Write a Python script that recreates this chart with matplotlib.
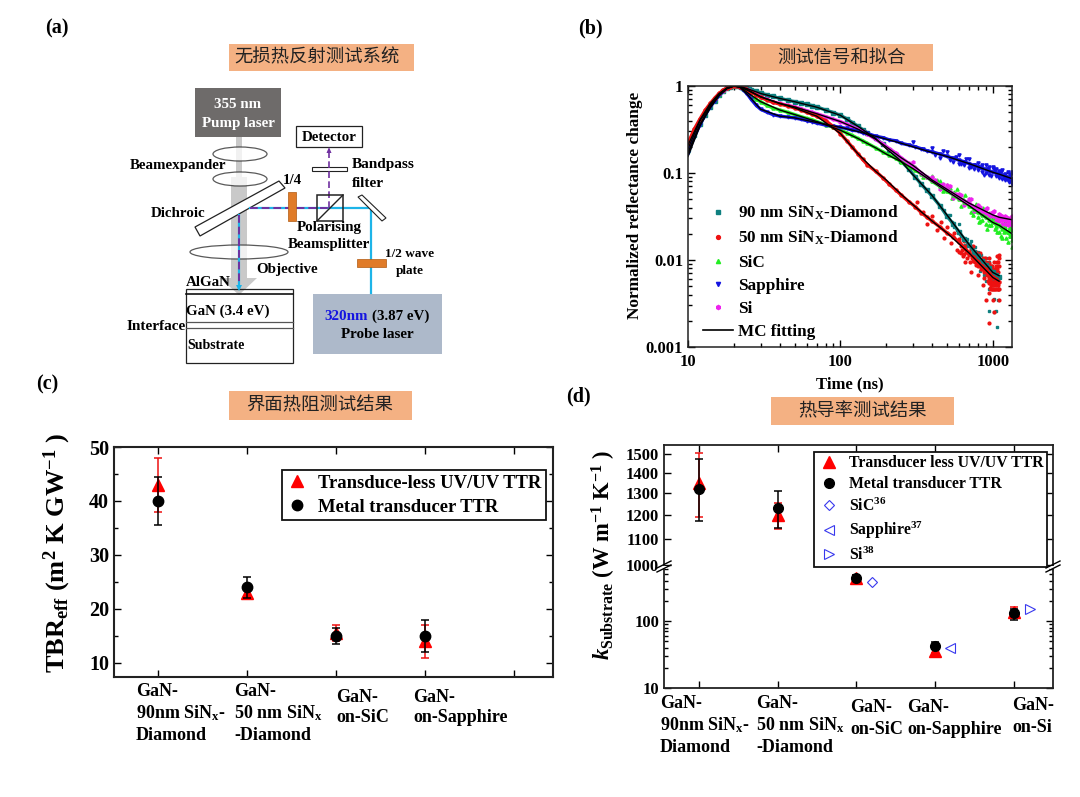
import matplotlib
matplotlib.use('Agg')
import matplotlib.pyplot as plt
from matplotlib.patches import Rectangle, Ellipse, Polygon
from matplotlib.lines import Line2D
from matplotlib.ticker import NullFormatter, FixedLocator, FixedFormatter, LogLocator

plt.rcParams['font.family'] = ['Liberation Serif', 'Noto Sans CJK SC', 'DejaVu Sans']
plt.rcParams['font.weight'] = 'bold'
plt.rcParams['mathtext.fontset'] = 'custom'
plt.rcParams['mathtext.rm'] = 'Liberation Serif:bold'
plt.rcParams['mathtext.bf'] = 'Liberation Serif:bold'
plt.rcParams['mathtext.it'] = 'Liberation Serif:italic:bold'
plt.rcParams['mathtext.default'] = 'rm'

W, H = 1080, 797

# ---- panel b data
TIME = [10, 11, 12, 13, 14, 15, 16, 17, 18, 19, 20, 21, 22, 23, 24, 25, 26, 28, 30, 33, 36, 40, 45, 50, 55, 60, 65, 70,
        80, 90, 100, 110, 120, 130, 140, 150, 170, 190, 210, 230, 250, 280, 310, 340, 370, 400, 450, 500, 550, 600,
        650, 700, 750, 800, 850, 900, 950, 1000, 1050, 1100]
TIME_LONG = TIME + [1150, 1200, 1250, 1300, 1340]
D90 = [.19, .27, .37, .47, .58, .68, .78, .87, .94, .98, 1, 1, .99, .97, .95, .93, .91, .87, .83, .79, .76, .72, .69,
       .66, .64, .615, .595, .575, .53, .495, .46, .42, .38, .345, .315, .29, .25, .215, .185, .16, .137, .112, .09,
       .074, .063, .054, .042, .032, .026, .021, .0175, .015, .0125, .011, .0098, .0088, .008, .0072, .0068, .0064]
D50 = [.22, .32, .42, .53, .63, .73, .82, .9, .95, .98, 1, 1, .98, .95, .92, .88, .85, .79, .74, .69, .65, .62, .59,
       .56, .53, .5, .475, .45, .4, .34, .284, .235, .197, .167, .143, .125, .105, .088, .074, .064, .056, .047, .041,
       .035, .031, .028, .024, .0205, .0185, .016, .014, .012, .0105, .0095, .0085, .0078, .007, .0064, .006, .0056]
SIC = [.18, .27, .37, .48, .59, .69, .79, .87, .94, .98, 1, 1, .97, .93, .88, .82, .76, .7, .66, .6, .56, .53, .5, .47,
       .445, .425, .41, .39, .36, .335, .31, .29, .27, .25, .235, .22, .195, .175, .16, .148, .135, .12, .108, .098,
       .09, .08, .07, .062, .056, .05, .047, .042, .039, .036, .033, .031, .029, .027, .026, .025, .023, .022, .021,
       .02, .019]
SAPPHIRE = [.17, .26, .36, .47, .58, .68, .78, .87, .94, .98, 1, .99, .96, .91, .84, .77, .7, .6, .54, .5, .47, .45,
            .44, .43, .415, .4, .39, .375, .355, .345, .335, .325, .31, .305, .29, .285, .265, .255, .24, .235, .22,
            .21, .2, .19, .18, .175, .165, .155, .148, .14, .135, .128, .122, .118, .113, .11, .105, .102, .1, .097,
            .094, .092, .09, .088, .086]
SI = [.2, .3, .4, .5, .6, .7, .8, .88, .94, .98, 1, 1, .98, .95, .92, .89, .86, .8, .75, .7, .66, .63, .6, .575, .55,
      .52, .5, .48, .445, .415, .39, .365, .34, .32, .3, .28, .245, .215, .19, .17, .15, .13, .115, .1, .09, .083,
      .072, .065, .058, .052, .048, .045, .041, .039, .037, .035, .033, .032, .031, .03, .029, .029, .028, .028, .027]

# scattered tail points
TAIL90_T = [480, 520, 560, 600, 620, 640, 680, 700, 720, 760, 780, 800, 820, 840, 860, 880, 900, 900, 920, 940, 950,
            960, 980, 1000, 1000, 1020, 1040, 1050, 1060, 1060, 1080, 1080, 1100, 1100, 950, 1020, 1060, 540, 580, 610,
            660, 740, 790, 830, 870, 910, 970, 1010, 1070]
TAIL90_Y = [.038, .033, .024, .026, .019, .018, .0175, .012, .0165, .014, .0095, .0125, .0075, .0115, .0085, .0068,
            .0105, .0058, .0072, .0095, .0046, .0062, .0085, .0046, .0072, .0036, .0058, .0026, .0046, .0072, .0035,
            .0085, .0046, .0062, .0026, .0025, .0017, .027, .022, .02, .015, .0135, .0105, .0098, .0092, .0085, .0078,
            .0058, .0054]
TAIL50_T = [320, 350, 370, 400, 430, 460, 480, 500, 530, 560, 580, 600, 620, 650, 660, 680, 700, 720, 740, 760, 780,
            800, 820, 840, 860, 880, 900, 920, 940, 960, 980, 1000, 1020, 1040, 1060, 1080, 1100, 1100, 1000, 950, 900,
            1080, 1050, 1020, 980, 940, 860, 800, 1100, 1060, 1020]
TAIL50_Y = [.047, .036, .026, .032, .022, .027, .018, .024, .0155, .0205, .013, .0175, .012, .0165, .0095, .015, .0115,
            .0072, .0145, .0095, .0125, .0085, .012, .0078, .0105, .0062, .0095, .0068, .0105, .0058, .0085, .0046,
            .0095, .0062, .011, .0046, .0085, .0115, .0035, .0019, .0035, .0072, .0054, .0078, .0062, .0042, .0052,
            .0068, .0035, .0095, .0025]
# denser block of red around the end of the decay
BLOCK50_T = [600, 620, 640, 660, 680, 700, 720, 740, 760, 780, 800, 810, 830, 850, 870, 890, 910, 930, 950, 970, 990,
             1010, 1030, 1050, 1070, 1090, 1100, 1090, 1070, 1050, 1030, 1010, 990, 970, 950, 930, 910, 890, 870, 850,
             830, 810, 790, 770, 750, 730, 710, 690, 670, 650, 630, 1090, 1070, 1050, 1030, 1010, 990, 970, 950, 930,
             1095, 1075, 1055, 1035, 1015, 995, 975, 955]
BLOCK50_Y = [.0125, .0145, .011, .0135, .0105, .0125, .0135, .0098, .0115, .0088, .0105, .0115, .0098, .0088, .0095,
             .0105, .0085, .0078, .0092, .0072, .0085, .0078, .0072, .0085, .0068, .0095, .0105, .0062, .0078, .0062,
             .0068, .0062, .0068, .0078, .0062, .0068, .0072, .0078, .0072, .0078, .0085, .0088, .0095, .0105, .0112,
             .0105, .0095, .012, .0125, .0118, .0132, .0052, .0058, .0052, .0056, .0052, .0056, .0052, .0054, .0058,
             .0046, .0046, .0046, .0046, .0046, .0046, .0046, .0048]
TAILSIC_T = [400, 450, 500, 540, 580, 620, 660, 700, 740, 780, 820, 860, 900, 940, 980, 1020, 1060, 1100, 1150, 1200,
             1250, 1300, 1340, 1340, 1300, 1250, 1200, 1150, 1100, 1050, 1000, 950, 900, 850, 800, 1330, 1310, 1290,
             1270, 1230, 1210, 1180, 1130, 1080, 1030, 970, 920, 870, 810, 760, 720, 680, 640, 600, 560, 520, 470, 430,
             350, 310]
TAILSIC_Y = [.092, .08, .072, .052, .065, .042, .056, .05, .033, .044, .028, .04, .026, .035, .025, .031, .021, .029,
             .018, .026, .016, .024, .014, .022, .019, .021, .024, .026, .021, .024, .03, .025, .035, .029, .031, .017,
             .026, .019, .023, .018, .027, .021, .019, .03, .023, .032, .023, .034, .027, .037, .036, .047, .05, .057,
             .06, .068, .062, .083, .09, .116]
TAILSAP_T = [300, 350, 400, 450, 500, 550, 600, 650, 700, 750, 800, 850, 900, 950, 1000, 1050, 1100, 1150, 1200, 1250,
             1300, 1340, 1340, 1300, 1250, 1200, 1150, 1100, 1050, 1000, 950, 900, 850, 800, 700, 600, 1330, 1310, 1270,
             1230, 1180, 1130, 1080, 1030, 980, 930, 880, 830, 770, 720, 670, 620, 570, 520, 470, 420]
TAILSAP_Y = [.225, .19, .195, .15, .175, .135, .16, .122, .145, .11, .13, .102, .125, .095, .115, .112, .088, .108,
             .084, .104, .08, .102, .075, .095, .083, .098, .085, .106, .092, .118, .116, .1, .122, .107, .115, .128,
             .08, .098, .078, .086, .09, .103, .092, .108, .092, .112, .096, .118, .122, .117, .143, .128, .152, .14,
             .178, .16]
TAILSI_T = [300, 350, 400, 450, 500, 550, 600, 650, 700, 750, 800, 850, 900, 950, 1000, 1050, 1100, 1150, 1200, 1250,
            1300, 1340, 1340, 1300, 1250, 1200, 1150, 1100, 1320, 1280, 1220, 1170, 1120, 1070, 1020, 970, 920, 870,
            820, 770, 720, 670, 620, 570, 520, 470, 420]
TAILSI_Y = [.135, .095, .09, .066, .072, .052, .058, .043, .05, .037, .043, .034, .039, .03, .036, .028, .034, .026,
            .032, .025, .03, .032, .025, .029, .03, .026, .032, .028, .03, .026, .031, .029, .033, .03, .037, .035,
            .04, .037, .041, .04, .05, .047, .056, .057, .071, .074, .083]

FIT_T = [10, 12, 14, 16, 18, 20, 22, 25, 30, 40, 50, 70, 100, 130, 170, 200, 250, 300, 400, 500, 700, 1000, 1100]
FIT90 = [.155, .35, .56, .78, .93, 1, .985, .92, .82, .72, .66, .57, .46, .345, .25, .19, .137, .095, .055, .033,
         .015, .0072, .0066]
FIT50 = [.21, .41, .63, .82, .95, 1, .98, .88, .75, .63, .56, .45, .284, .167, .105, .083, .057, .043, .028, .0205,
         .012, .0063, .0057]
FIT_T_LONG = FIT_T + [1340]
FITSIC = [.17, .36, .58, .79, .94, 1, .97, .82, .66, .53, .47, .39, .31, .25, .195, .165, .135, .112, .08, .062, .042,
          .027, .025, .02]
FITSAP = [.17, .36, .58, .78, .94, 1, .96, .77, .54, .45, .43, .38, .335, .3, .265, .245, .22, .2, .172, .155, .128,
          .102, .097, .086]
FITSI = [.19, .4, .6, .8, .94, 1, .98, .89, .75, .63, .575, .48, .39, .32, .245, .2, .15, .122, .083, .065, .045,
         .033, .031, .029]

# ---- panel c data
TBR_X = [1, 2, 3, 4]
TBR_TTR = [43, 23, 15.5, 14]
TBR_TTR_LOW = [38, 22, 14, 11]
TBR_TTR_HIGH = [48, 24, 17, 17]
TBR_METAL = [40, 24, 15, 15]
TBR_METAL_LOW = [35.5, 22, 13.5, 12]
TBR_METAL_HIGH = [44.5, 26, 16.5, 18]
TBR_LABELS = [['GaN-', r'90nm SiN$_{x}$-', 'Diamond'], ['GaN-', r'50 nm SiN$_{x}$', '-Diamond'],
              ['GaN-', 'on-SiC'], ['GaN-', 'on-Sapphire']]

# ---- panel d data
K_X = [1, 2, 3, 4, 5]
K_TTR = [1350, 1200, 445, 36, 138]
K_TTR_LOW = [1190, 1140, 405, 33, 115]
K_TTR_HIGH = [1505, 1255, 490, 40, 160]
K_METAL = [1320, 1230, 440, 43, 130]
K_METAL_LOW = [1175, 1145, 405, 38, 105]
K_METAL_HIGH = [1470, 1310, 480, 48, 150]
K_REF_X = [3.2, 4.19, 5.2]
K_REF = [386, 40, 151]
K_REF_NAMES = ['SiC$^{36}$', 'Sapphire$^{37}$', 'Si$^{38}$']
K_LABELS = [['GaN-', r'90nm SiN$_{x}$-', 'Diamond'], ['GaN-', r'50 nm SiN$_{x}$', '-Diamond'],
            ['GaN-', 'on-SiC'], ['GaN-', 'on-Sapphire'], ['GaN-', 'on-Si']]

fig = plt.figure(figsize=(W / 100, H / 100), dpi=100)


def axes_px(left, top, right, bottom):
    return fig.add_axes([left / W, 1 - bottom / H, (right - left) / W, (bottom - top) / H])


def style(ax, lw=1.3):
    for s in ax.spines.values():
        s.set_linewidth(lw)
        s.set_color('#222222')
    ax.tick_params(which='both', direction='in', top=True, right=True, width=1.0)
    ax.tick_params(which='major', length=5)
    ax.tick_params(which='minor', length=3)


# ---- panel b
axb = axes_px(688, 86, 1012, 347)
axb.set_xscale('log')
axb.set_yscale('log')
axb.set_xlim(10, 1337)
axb.set_ylim(0.001, 1)
series = [(TIME, D90, '#0f8080', 's'),
          (TIME_LONG, SIC, '#22ee22', '^'),
          (TIME_LONG, SI, '#ee22ee', 'h'),
          (TIME_LONG, SAPPHIRE, '#1414e0', 'v'),
          (TIME, D50, '#ee1111', 'o')]
axb.plot(TAILSIC_T, TAILSIC_Y, ls='', marker='^', ms=2.3, color='#22ee22')
axb.plot(TAILSAP_T, TAILSAP_Y, ls='', marker='v', ms=2.3, color='#1414e0')
axb.plot(TAILSI_T, TAILSI_Y, ls='', marker='h', ms=2.3, color='#ee22ee')
axb.plot(TAIL90_T, TAIL90_Y, ls='', marker='s', ms=2.0, color='#0f8080')
axb.plot(TAIL50_T, TAIL50_Y, ls='', marker='o', ms=2.0, color='#ee1111')
axb.plot(BLOCK50_T, BLOCK50_Y, ls='', marker='o', ms=2.0, color='#ee1111')
for t, y, c, m in series:
    axb.plot(t, y, color=c, lw=2.4, marker=m, ms=2.2)
axb.plot(FIT_T, FIT90, color='black', lw=1.0)
axb.plot(FIT_T, FIT50, color='black', lw=1.0)
axb.plot(FIT_T_LONG, FITSIC, color='black', lw=1.0)
axb.plot(FIT_T_LONG, FITSAP, color='black', lw=1.0)
axb.plot(FIT_T_LONG, FITSI, color='black', lw=1.0)
axb.set_xticks([10, 100, 1000])
axb.set_xticklabels(['10', '100', '1000'], fontsize=12)
axb.set_yticks([0.001, 0.01, 0.1, 1])
axb.set_yticklabels(['0.001', '0.01', '0.1', '1'], fontsize=12)
axb.yaxis.set_minor_locator(LogLocator(base=10, subs=(2, 3, 4, 5, 6, 7, 8, 9), numticks=12))
axb.yaxis.set_minor_formatter(NullFormatter())
axb.xaxis.set_minor_formatter(NullFormatter())
style(axb, 1.1)
axb.tick_params(axis='x', pad=5)
handles = [Line2D([], [], ls='', marker='s', ms=2.6, color='#0f8080'),
           Line2D([], [], ls='', marker='o', ms=2.8, color='#ee1111'),
           Line2D([], [], ls='', marker='^', ms=3, color='#22ee22'),
           Line2D([], [], ls='', marker='v', ms=3, color='#1414e0'),
           Line2D([], [], ls='', marker='h', ms=3, color='#ee22ee'),
           Line2D([], [], color='black', lw=1.2)]
axb.legend(handles, ['90 nm SiN$_{X}$-Diamond', '50 nm SiN$_{X}$-Diamond', 'SiC', 'Sapphire', 'Si', 'MC fitting'],
           loc='lower left', bbox_to_anchor=(0.026, 0.0), frameon=False, fontsize=12.3, labelspacing=0.42,
           handlelength=1.75, handletextpad=0.3, borderpad=0.2, borderaxespad=0.2)

# ---- panel c
axc = axes_px(114, 447, 553, 677)
axc.set_xlim(0.5, 5.44)
axc.set_ylim(7.4, 50)
axc.errorbar(TBR_X, TBR_TTR, yerr=[[v - l for v, l in zip(TBR_TTR, TBR_TTR_LOW)],
                                   [h - v for v, h in zip(TBR_TTR, TBR_TTR_HIGH)]],
             fmt='none', ecolor='#ee1111', elinewidth=1.1, capsize=3, capthick=1.1)
axc.plot(TBR_X, TBR_TTR, ls='', marker='^', ms=8.5, color='#ff0000', label='Transduce-less UV/UV TTR')
axc.errorbar(TBR_X, TBR_METAL, yerr=[[v - l for v, l in zip(TBR_METAL, TBR_METAL_LOW)],
                                     [h - v for v, h in zip(TBR_METAL, TBR_METAL_HIGH)]],
             fmt='none', ecolor='black', elinewidth=1.1, capsize=3, capthick=1.1)
axc.plot(TBR_X, TBR_METAL, ls='', marker='o', ms=7.5, color='black', label='Metal transducer TTR')
axc.set_xticks([1, 2, 3, 4, 5])
axc.set_xticklabels([])
axc.set_yticks([10, 20, 30, 40, 50])
axc.set_yticklabels(['10', '20', '30', '40', '50'], fontsize=14.5)
axc.set_yticks([15, 25, 35, 45], minor=True)
style(axc, 1.5)
axc.legend(loc='upper left', bbox_to_anchor=(0.382, 0.9), fontsize=13.4, fancybox=False, edgecolor='#111111',
           framealpha=1, labelspacing=0.38, handletextpad=0.6, borderpad=0.25, handlelength=1.1, borderaxespad=0)
axc.get_legend().get_frame().set_linewidth(1.3)

# ---- panel d, broken log axis
axd = axes_px(664, 568, 1053, 688)
axd_up = axes_px(664, 445, 1053, 566)
for ax in (axd, axd_up):
    ax.set_xlim(0.556, 5.495)
    ax.set_yscale('log')
    ax.errorbar(K_X, K_TTR, yerr=[[v - l for v, l in zip(K_TTR, K_TTR_LOW)],
                                  [h - v for v, h in zip(K_TTR, K_TTR_HIGH)]],
                fmt='none', ecolor='#ee1111', elinewidth=1.1, capsize=3, capthick=1.1)
    ax.plot(K_X, K_TTR, ls='', marker='^', ms=8, color='#ff0000')
    ax.errorbar(K_X, K_METAL, yerr=[[v - l for v, l in zip(K_METAL, K_METAL_LOW)],
                                    [h - v for v, h in zip(K_METAL, K_METAL_HIGH)]],
                fmt='none', ecolor='black', elinewidth=1.1, capsize=3, capthick=1.1)
    ax.plot(K_X, K_METAL, ls='', marker='o', ms=7, color='black')
    ax.plot(K_REF_X[0], K_REF[0], ls='', marker='D', ms=5.5, mfc='none', mec='#3838ee', mew=0.8)
    ax.plot(K_REF_X[1], K_REF[1], ls='', marker='<', ms=7.5, mfc='none', mec='#3838ee', mew=0.8)
    ax.plot(K_REF_X[2], K_REF[2], ls='', marker='>', ms=7.5, mfc='none', mec='#3838ee', mew=0.8)
    ax.set_xticks([1, 2, 3, 4, 5])
    ax.set_xticklabels([])
    style(ax)
axd_up.set_ylim(996, 1550)
axd.set_ylim(10, 620)
axd_up.spines['bottom'].set_visible(False)
axd.spines['top'].set_visible(False)
axd_up.tick_params(axis='x', bottom=False)
axd.tick_params(axis='x', top=False)
axd_up.yaxis.set_major_locator(FixedLocator([1000, 1100, 1200, 1300, 1400, 1500]))
axd_up.yaxis.set_major_formatter(FixedFormatter(['1000', '1100', '1200', '1300', '1400', '1500']))
axd_up.yaxis.set_minor_locator(FixedLocator([]))
axd_up.tick_params(axis='y', labelsize=12)
axd.set_yticks([10, 100])
axd.set_yticklabels(['10', '100'], fontsize=12)
axd.yaxis.set_minor_locator(LogLocator(base=10, subs=(2, 3, 4, 5, 6, 7, 8, 9), numticks=12))
axd.yaxis.set_minor_formatter(NullFormatter())
handles = [Line2D([], [], ls='', marker='^', ms=8, color='#ff0000'),
           Line2D([], [], ls='', marker='o', ms=7, color='black'),
           Line2D([], [], ls='', marker='D', ms=5.5, mfc='none', mec='#3838ee', mew=0.8),
           Line2D([], [], ls='', marker='<', ms=7.5, mfc='none', mec='#3838ee', mew=0.8),
           Line2D([], [], ls='', marker='>', ms=7.5, mfc='none', mec='#3838ee', mew=0.8)]
leg = axd_up.legend(handles, ['Transducer less UV/UV TTR', 'Metal transducer TTR'] + K_REF_NAMES,
                    loc='upper left', bbox_to_anchor=(0.386, 0.942), fontsize=11.3, fancybox=False,
                    edgecolor='#111111', framealpha=1, labelspacing=0.33, handletextpad=0.55, borderpad=0.2,
                    handlelength=1.5, borderaxespad=0)
leg.get_frame().set_linewidth(1.3)

# ---- overlay in pixel coordinates for schematic, headings and labels
ov = fig.add_axes([0, 0, 1, 1], zorder=10)
ov.set_xlim(0, W)
ov.set_ylim(H, 0)
ov.axis('off')
ov.patch.set_alpha(0)


def label(x, y, s, size=10.8, ha='center', color='black', **kw):
    ov.text(x, y, s, fontsize=size, ha=ha, va='center', color=color, **kw)


def box(x0, y0, x1, y1, **kw):
    ov.add_patch(Rectangle((x0, y0), x1 - x0, y1 - y0, **kw))


for (x, y, s) in [(57, 28, '(a)'), (590, 28, '(b)'), (47, 384, '(c)'), (578, 396, '(d)')]:
    label(x, y, s, size=14.5)

ORANGE = '#f4b183'
for (x0, y0, x1, y1, tx, s) in [(229, 44, 414, 71, 317, '无损热反射测试系统'), (750, 44, 933, 71, 842, '测试信号和拟合'),
                                (229, 391, 412, 420, 320, '界面热阻测试结果'), (771, 397, 954, 425, 863, '热导率测试结果')]:
    box(x0, y0, x1, y1, fc=ORANGE, ec='none')
    ov.text(tx, (y0 + y1) / 2, s, fontsize=13.2, ha='center', va='center', fontweight='normal',
            family=['Noto Sans CJK SC', 'DejaVu Sans'], color='#222222')

# schematic
GRAY_BEAM = '#c9c9c9'
box(236, 137, 242, 177, fc=GRAY_BEAM, ec='none')
box(231, 177, 247, 279, fc=GRAY_BEAM, ec='none')
ov.add_patch(Polygon([(220, 278), (257, 278), (239, 295)], fc=GRAY_BEAM, ec='none'))
box(195, 88, 281, 137, fc='#6e6b6a', ec='none')
label(238, 104, '355 nm', color='white')
label(238, 123, 'Pump laser', color='white')
for (cx, cy, w, h) in [(240, 154, 54, 14), (240, 179, 54, 14), (239, 252, 98, 14)]:
    ov.add_patch(Ellipse((cx, cy), w, h, fc='white', ec='#222222', lw=0.9, zorder=3, alpha=0.75))
ov.add_patch(Polygon([(195, 227), (279, 181), (285, 188), (200, 236)], fc='white', ec='#222222', lw=0.9, zorder=3))

CYAN = '#1db4e8'
PURPLE = '#7030a0'
ov.plot([250, 371, 371], [208, 208, 293], color=CYAN, lw=1.6, zorder=4)
ov.plot([239, 239], [215, 288], color=CYAN, lw=1.6, zorder=4)
ov.plot([250, 329], [208, 208], color=PURPLE, lw=1.4, ls=(0, (4, 2)), zorder=5)
ov.plot([239, 239], [215, 285], color=PURPLE, lw=1.4, ls=(0, (4, 2)), zorder=5)
ov.plot([329, 329], [208, 152], color=PURPLE, lw=1.2, ls=(0, (4, 2)), zorder=5)
ov.add_patch(Polygon([(326.5, 153), (331.5, 153), (329, 147)], fc=PURPLE, ec='none', zorder=5))
ov.add_patch(Polygon([(236, 285), (242, 285), (239, 291)], fc=CYAN, ec='none', zorder=5))

box(296, 126, 362, 147, fc='white', ec='#222222', lw=0.9)
label(329, 137, 'Detector')
box(312, 167, 347, 171, fc='white', ec='#222222', lw=0.8)
box(317, 195, 343, 221, fc='none', ec='#222222', lw=1.1, zorder=6)
ov.plot([317, 343], [221, 195], color='#222222', lw=1.0, zorder=6)
ov.add_patch(Polygon([(358, 197), (362, 195), (386, 218), (382, 221)], fc='white', ec='#222222', lw=0.8, zorder=6))
box(288, 192, 296, 221, fc='#e07b28', ec='#b05a10', lw=0.5, zorder=6)
box(357, 259, 386, 267, fc='#e07b28', ec='#b05a10', lw=0.5, zorder=6)
box(313, 294, 442, 354, fc='#adb9ca', ec='none')
label(324, 316, '320nm', color='#1414e0', ha='left')
label(372, 316, '(3.87 eV)', ha='left')
label(377, 334, 'Probe laser')

box(186, 289, 293, 363, fc='none', ec='#222222', lw=0.9)
ov.plot([186, 293], [293.5, 293.5], color='#111111', lw=1.2)
ov.plot([186, 293], [322, 322], color='#555555', lw=0.9)
ov.plot([186, 293], [328, 328], color='#555555', lw=0.9)

label(178, 165, 'Beamexpander')
label(352, 164, 'Bandpass', ha='left', size=11)
label(352, 183, 'filter', ha='left', size=11)
label(292, 180, '1/4')
label(178, 213, 'Dichroic')
label(329, 227, 'Polarising', zorder=7)
label(329, 244, 'Beamsplitter', zorder=7)
label(287, 270, 'Objective')
label(410, 254, '1/2 wave', size=9.5)
label(410, 271, 'plate', size=9.5)
label(186, 283, 'AlGaN', ha='left')
label(186, 311, 'GaN (3.4 eV)', ha='left')
label(127, 326, 'Interface', ha='left', size=11)
label(187, 345, 'Substrate', ha='left', size=10)

# axis labels
ov.text(635, 205, 'Normalized reflectance change', fontsize=12.4, rotation=90, ha='center', va='center')
ov.text(850, 384, 'Time (ns)', fontsize=12, ha='center', va='center')
ov.text(57, 553, r'TBR$_{\mathrm{eff}}$ (m$^{2}$ K GW$^{-1}$ )', fontsize=19, rotation=90, ha='center', va='center')
ov.text(604, 555, r'$\mathit{k}_{\mathrm{Substrate}}$ (W m$^{-1}$ K$^{-1}$ )', fontsize=16.3, rotation=90, ha='center',
        va='center')

# category labels
for lines, x, ys in zip(TBR_LABELS, [136, 234, 336, 413],
                        [(692, 713, 735), (692, 713, 735), (697, 718), (697, 718)]):
    for s, y in zip(lines, ys):
        label(x, y, s, size=13, ha='left')
for lines, x, ys in zip(K_LABELS, [660, 756, 850, 907, 1012],
                        [(703, 725, 747), (703, 725, 747), (708, 729), (708, 729), (706, 728)]):
    for s, y in zip(lines, ys):
        label(x, y, s, size=13, ha='left')

# axis-break marks and gap
for x in (664, 1053):
    box(x - 3, 565.5, x + 3, 568.5, fc='white', ec='none')
    ov.plot([x - 7, x + 7], [568, 561], color='black', lw=1.0)
    ov.plot([x - 7, x + 7], [572, 565], color='black', lw=1.0)

fig.savefig('out.png', dpi=100)
